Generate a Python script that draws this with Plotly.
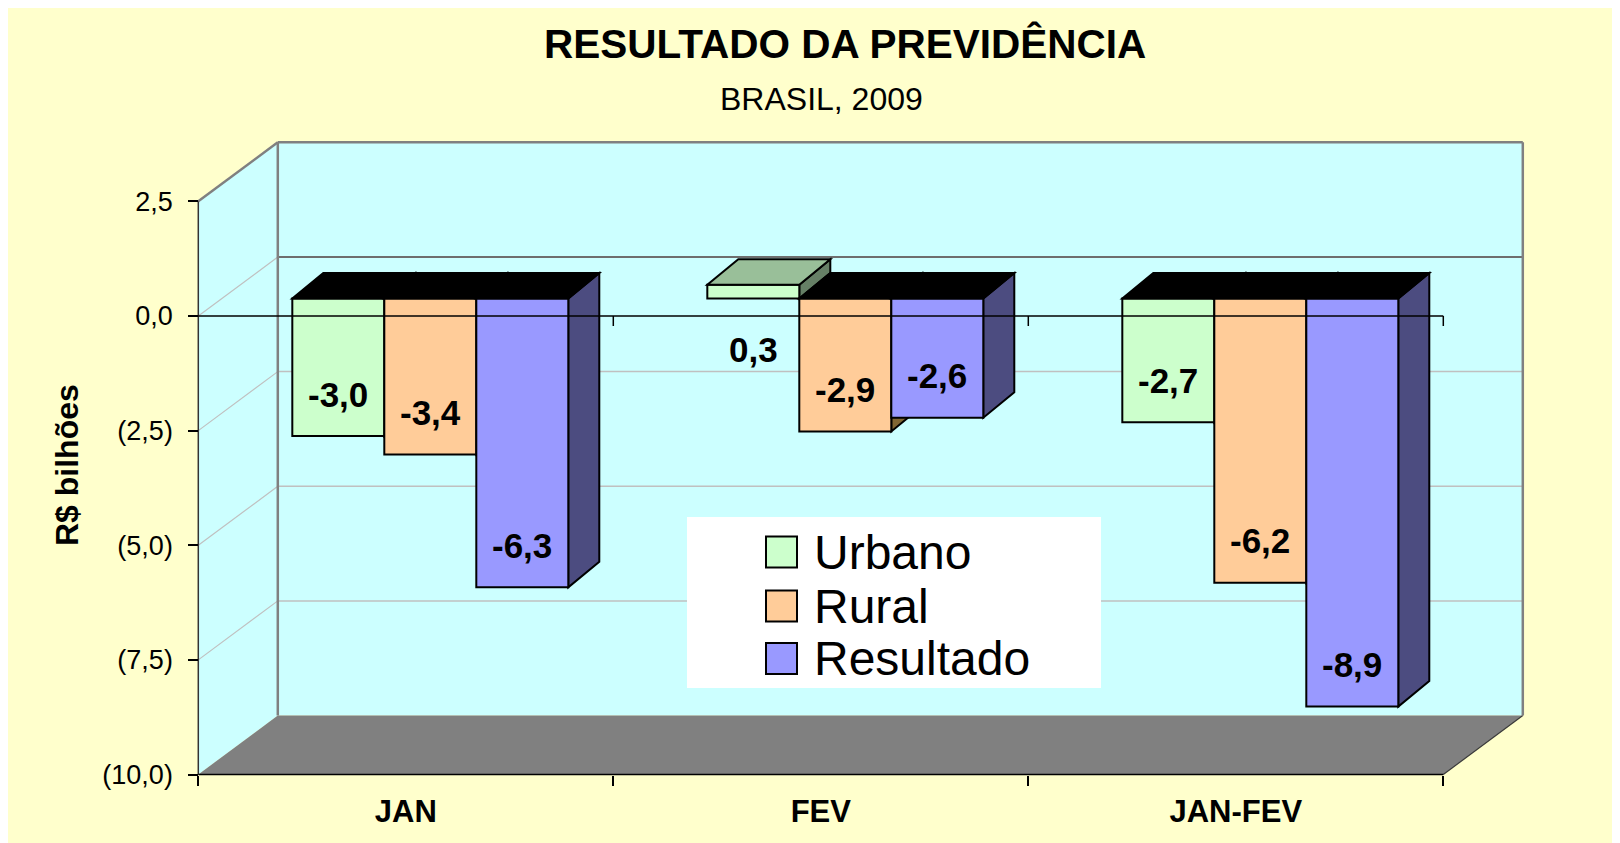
import plotly.graph_objects as go

# ---------------- DATA ----------------
categories = ["JAN", "FEV", "JAN-FEV"]
series_names = ["Urbano", "Rural", "Resultado"]
urbano = [-3.0, 0.3, -2.7]
rural = [-3.4, -2.9, -6.2]
resultado = [-6.3, -2.6, -8.9]
y_tickvals = [-10, -7.5, -5, -2.5, 0, 2.5]
y_ticktext = ["(10,0)", "(7,5)", "(5,0)", "(2,5)", "0,0", "2,5"]
title_text = "RESULTADO DA PREVIDÊNCIA"
subtitle_text = "BRASIL, 2009"
y_title_text = "R$ bilhões"

series_values = [urbano, rural, resultado]

# ---------------- STYLE ----------------
face_colors = ["#CCFFCC", "#FFCC99", "#9999FF"]
side_colors = ["#668066", "#806633", "#4C4C80"]
top_pos_colors = ["#99BF99", "#BF9973", "#7373BF"]
TOP_NEG = "#000000"
PAPER = "#FFFFCC"
WALL = "#CCFFFF"
FLOOR = "#808080"
EDGE = "#808080"
GRID = "#C0C0C0"
BACK_ZERO = "#6E6E6E"
FONT = "Liberation Sans, Arial, sans-serif"

# ---------------- GEOMETRY ----------------
# measured positions are page pixels; the figure sits 8px in from the page corner
PAGE_OFF = 8
W, H = 1620, 843
ML, MR, MT, MB = 185, 102, 132, 74
PW = W - ML - MR
PH = H - MT - MB
CAT_PX = 415.0          # pixels per category on the front plane
Y_PX = 45.85            # pixels per unit on the front plane
FRONT_LEFT_PX = 198.3 - PAGE_OFF   # x of the front-left edge (figure px)
FLOOR_FRONT_PX = 774.5 - PAGE_OFF  # y of the front floor edge (-10) (figure px)
Y_MIN, Y_MAX = -10.0, 2.5
X_MIN, X_MAX = -0.5, len(categories) - 0.5

xr0 = X_MIN - (FRONT_LEFT_PX - ML) / CAT_PX
xr1 = xr0 + PW / CAT_PX
yr0 = Y_MIN - ((H - MB) - FLOOR_FRONT_PX) / Y_PX
yr1 = yr0 + PH / Y_PX

DX = 79.5 / CAT_PX      # depth of the box
DY = 59.0 / Y_PX
BX = 24.5 / CAT_PX      # bar front-face offset into depth
BY = 17.5 / Y_PX
BDX = 31.0 / CAT_PX     # bar depth
BDY = 25.5 / Y_PX
W_BAR = 0.665 / 3
TICK = 10.0 / Y_PX
LABEL_UP = 42.0 / Y_PX
LABEL_BELOW = 33.0 / Y_PX


def px_x(px):
    return (px - PAGE_OFF - ML) / PW


def px_y(py):
    return (H - MB - (py - PAGE_OFF)) / PH


def poly(pts, fill, line_color=None, lw=0.0, layer="below"):
    path = "M " + " L ".join(f"{x:.5f},{y:.5f}" for x, y in pts) + " Z"
    return dict(type="path", path=path, xref="x", yref="y", fillcolor=fill,
                line=dict(color=line_color or fill, width=lw), layer=layer)


def seg(x0, y0, x1, y1, color, lw, layer="below"):
    return dict(type="line", x0=x0, y0=y0, x1=x1, y1=y1, xref="x", yref="y",
                line=dict(color=color, width=lw), layer=layer)


fig = go.Figure()

shapes = []
# back wall and left wall
shapes.append(poly([(X_MIN + DX, Y_MIN + DY), (X_MAX + DX, Y_MIN + DY),
                    (X_MAX + DX, Y_MAX + DY), (X_MIN + DX, Y_MAX + DY)], WALL))
shapes.append(poly([(X_MIN, Y_MIN), (X_MIN, Y_MAX), (X_MIN + DX, Y_MAX + DY),
                    (X_MIN + DX, Y_MIN + DY)], WALL))
# gridlines on walls
for v in y_tickvals[1:-1]:
    shapes.append(seg(X_MIN, v, X_MIN + DX, v + DY, GRID, 1.2))
    if v == 0:
        shapes.append(seg(X_MIN + DX, v + DY, X_MAX + DX, v + DY, BACK_ZERO, 2.2))
    else:
        shapes.append(seg(X_MIN + DX, v + DY, X_MAX + DX, v + DY, GRID, 1.5))
# floor
shapes.append(poly([(X_MIN, Y_MIN), (X_MAX, Y_MIN), (X_MAX + DX, Y_MIN + DY),
                    (X_MIN + DX, Y_MIN + DY)], FLOOR))
shapes.append(seg(X_MAX, Y_MIN, X_MAX + DX, Y_MIN + DY, "#3A3A3A", 1.2))
# wall edges
shapes.append(seg(X_MIN + DX, Y_MIN + DY, X_MIN + DX, Y_MAX + DY, EDGE, 2.5))
shapes.append(seg(X_MIN, Y_MAX, X_MIN + DX, Y_MAX + DY, EDGE, 2.5))
shapes.append(seg(X_MIN + DX, Y_MAX + DY, X_MAX + DX, Y_MAX + DY, EDGE, 2.5))
shapes.append(seg(X_MAX + DX, Y_MAX + DY, X_MAX + DX, Y_MIN + DY, EDGE, 2.5))
# front axis lines
shapes.append(seg(X_MIN, Y_MIN, X_MIN, Y_MAX, "#333333", 1.5))
shapes.append(seg(X_MIN, Y_MIN, X_MAX, Y_MIN, "#000000", 1.5))

annotations = []
above = []
for j, (name, vals) in enumerate(zip(series_names, series_values)):
    off = BX - 1.5 * W_BAR + j * W_BAR
    fig.add_trace(go.Bar(
        x=categories, y=vals, base=BY, offset=off, width=W_BAR, name=name,
        marker=dict(color=face_colors[j], line=dict(color="#000000", width=2)),
        showlegend=False, hoverinfo="x+y+name",
    ))
    for i, v in enumerate(vals):
        x0 = i + off
        x1 = x0 + W_BAR
        b = BY
        e = BY + v
        # side face (under the bars)
        shapes.append(poly([(x1, b), (x1 + BDX, b + BDY), (x1 + BDX, e + BDY), (x1, e)],
                           side_colors[j], "#000000", 2))
        # top face (above the bars)
        t = max(b, e)
        above.append(poly([(x0, t), (x1, t), (x1 + BDX, t + BDY), (x0 + BDX, t + BDY)],
                          TOP_NEG if v < 0 else top_pos_colors[j], "#000000", 2, "above"))
        label = f"{v:.1f}".replace(".", ",")
        ly = (e + LABEL_UP) if v < 0 else -LABEL_BELOW
        annotations.append(dict(x=(x0 + x1) / 2, y=ly, xref="x", yref="y", text=label,
                                showarrow=False, xanchor="center", yanchor="middle",
                                font=dict(family=FONT, size=35, color="#000000", weight="bold")))

# zero line on top of bars, with its category ticks
above.append(seg(X_MIN, 0, X_MAX, 0, "#000000", 1.5, "above"))
for k in range(1, len(categories) + 1):
    above.append(seg(X_MIN + k, 0, X_MIN + k, -TICK, "#000000", 1.5, "above"))
shapes.extend(above)

# legend (drawn box)
lg_x0, lg_x1, lg_y0, lg_y1 = 687, 1101, 517, 688
shapes.append(dict(type="rect", xref="paper", yref="paper", x0=px_x(lg_x0), x1=px_x(lg_x1),
                   y0=px_y(lg_y1), y1=px_y(lg_y0), fillcolor="#FFFFFF",
                   line=dict(width=0), layer="above"))
row_centers = [552, 606, 658.5]
for j, name in enumerate(series_names):
    cy = row_centers[j]
    shapes.append(dict(type="rect", xref="paper", yref="paper", x0=px_x(766), x1=px_x(797),
                       y0=px_y(cy + 15.5), y1=px_y(cy - 15.5), fillcolor=face_colors[j],
                       line=dict(color="#000000", width=2), layer="above"))
    annotations.append(dict(x=px_x(812), y=px_y(cy), xref="paper", yref="paper", text=name,
                            showarrow=False, xanchor="left", yanchor="middle",
                            font=dict(family=FONT, size=48, color="#000000")))

# titles
annotations.append(dict(x=px_x(844.6), y=px_y(44.5), xref="paper", yref="paper",
                        text=title_text, showarrow=False, xanchor="center", yanchor="middle",
                        font=dict(family=FONT, size=40.5, color="#000000", weight="bold")))
annotations.append(dict(x=px_x(821), y=px_y(99), xref="paper", yref="paper",
                        text=subtitle_text, showarrow=False, xanchor="center", yanchor="middle",
                        font=dict(family=FONT, size=32, color="#000000")))
annotations.append(dict(x=px_x(67), y=px_y(465), xref="paper", yref="paper",
                        text=y_title_text, showarrow=False, textangle=-90,
                        xanchor="center", yanchor="middle",
                        font=dict(family=FONT, size=32, color="#000000", weight="bold")))

fig.update_layout(
    width=W, height=H, autosize=False,
    margin=dict(l=ML, r=MR, t=MT, b=MB, pad=0),
    paper_bgcolor=PAPER, plot_bgcolor=PAPER,
    barmode="overlay", showlegend=False,
    shapes=shapes, annotations=annotations,
    font=dict(family=FONT, color="#000000"),
    xaxis=dict(type="category", categoryorder="array", categoryarray=categories,
               range=[xr0, xr1], tickson="boundaries", ticks="outside", ticklen=10,
               tickwidth=1.5, tickcolor="#000000", showgrid=False, zeroline=False,
               showline=False, anchor="free", position=(Y_MIN - yr0) / (yr1 - yr0),
               ticklabelstandoff=15,
               tickfont=dict(family=FONT, size=31, color="#000000", weight="bold")),
    yaxis=dict(range=[yr0, yr1], tickmode="array", tickvals=y_tickvals, ticktext=y_ticktext,
               ticks="outside", ticklen=10, tickwidth=1.5, tickcolor="#000000",
               showgrid=False, zeroline=False, showline=False, anchor="free",
               position=(X_MIN - xr0) / (xr1 - xr0), ticklabelstandoff=10,
               tickfont=dict(family=FONT, size=27, color="#000000")),
)

fig.write_html("out.html")
